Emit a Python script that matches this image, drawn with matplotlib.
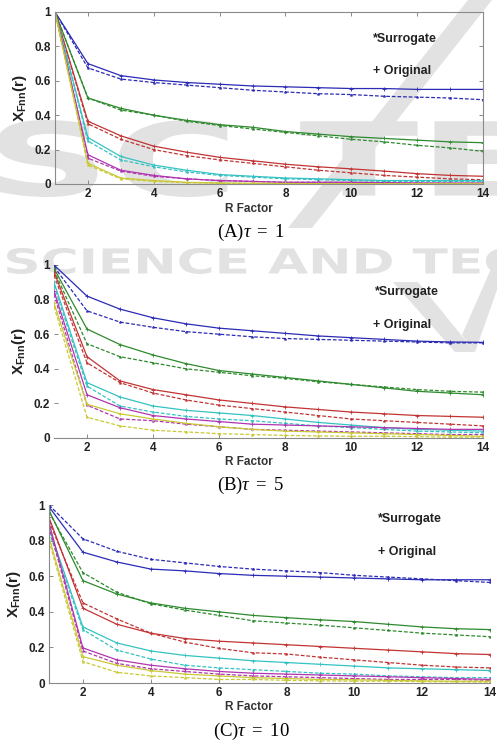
import numpy as np
import matplotlib
matplotlib.use("Agg")
import matplotlib.pyplot as plt
from matplotlib.textpath import TextPath
from matplotlib.font_manager import FontProperties
from matplotlib.patches import PathPatch, Polygon
from matplotlib.transforms import Affine2D

plt.rcParams.update({
    'mathtext.fontset': 'custom',
    'mathtext.sf': 'Liberation Sans:bold',
    'mathtext.rm': 'Liberation Serif',
    'mathtext.it': 'Liberation Serif:italic',
})

# ---------------- data ----------------
r_factor = list(range(1, 15))
series_colors = ['#2b2bb5', '#2e8a2e', '#c23434', '#35c2c2', '#b035b0', '#c9c935']

# Panel A, tau = 1  (orig = solid, surr = dashed)
a_orig = [
    [1, 0.70, 0.63, 0.605, 0.59, 0.58, 0.57, 0.565, 0.56, 0.555, 0.555, 0.55, 0.55, 0.55],
    [1, 0.50, 0.44, 0.40, 0.37, 0.345, 0.33, 0.305, 0.29, 0.275, 0.265, 0.255, 0.245, 0.24],
    [1, 0.365, 0.28, 0.22, 0.185, 0.155, 0.135, 0.115, 0.10, 0.088, 0.075, 0.06, 0.05, 0.045],
    [1, 0.27, 0.16, 0.11, 0.08, 0.055, 0.045, 0.035, 0.03, 0.025, 0.02, 0.02, 0.02, 0.02],
    [1, 0.17, 0.08, 0.05, 0.03, 0.02, 0.015, 0.01, 0.01, 0.01, 0.008, 0.006, 0.005, 0.005],
    [1, 0.12, 0.035, 0.02, 0.01, 0.006, 0.004, 0.003, 0.002, 0.002, 0.001, 0.001, 0.001, 0.001],
]
a_surr = [
    [1, 0.675, 0.61, 0.59, 0.575, 0.56, 0.545, 0.535, 0.525, 0.52, 0.51, 0.505, 0.50, 0.49],
    [1, 0.50, 0.43, 0.40, 0.365, 0.34, 0.32, 0.30, 0.28, 0.26, 0.245, 0.225, 0.21, 0.19],
    [1, 0.35, 0.26, 0.20, 0.165, 0.14, 0.12, 0.10, 0.08, 0.065, 0.05, 0.04, 0.03, 0.025],
    [1, 0.25, 0.14, 0.10, 0.07, 0.05, 0.04, 0.03, 0.025, 0.02, 0.015, 0.015, 0.015, 0.015],
    [1, 0.15, 0.075, 0.045, 0.03, 0.02, 0.015, 0.01, 0.01, 0.008, 0.006, 0.005, 0.004, 0.004],
    [1, 0.11, 0.03, 0.015, 0.008, 0.004, 0.003, 0.002, 0.002, 0.001, 0.001, 0.001, 0.001, 0.001],
]

# Panel B, tau = 5
b_orig = [
    [1.0, 0.82, 0.745, 0.695, 0.66, 0.635, 0.62, 0.605, 0.59, 0.58, 0.57, 0.56, 0.555, 0.553],
    [0.98, 0.63, 0.54, 0.48, 0.43, 0.39, 0.37, 0.35, 0.33, 0.31, 0.29, 0.27, 0.26, 0.25],
    [0.96, 0.47, 0.33, 0.28, 0.25, 0.22, 0.20, 0.18, 0.165, 0.15, 0.14, 0.13, 0.125, 0.12],
    [0.90, 0.32, 0.237, 0.185, 0.16, 0.145, 0.13, 0.11, 0.09, 0.075, 0.06, 0.05, 0.045, 0.04],
    [0.85, 0.25, 0.175, 0.13, 0.11, 0.095, 0.08, 0.075, 0.07, 0.065, 0.06, 0.055, 0.05, 0.05],
    [0.78, 0.195, 0.14, 0.11, 0.085, 0.065, 0.05, 0.04, 0.035, 0.03, 0.025, 0.02, 0.015, 0.01],
]
b_surr = [
    [0.99, 0.735, 0.67, 0.64, 0.615, 0.60, 0.585, 0.575, 0.57, 0.565, 0.56, 0.555, 0.55, 0.55],
    [0.97, 0.545, 0.47, 0.435, 0.40, 0.38, 0.36, 0.345, 0.325, 0.31, 0.295, 0.28, 0.27, 0.265],
    [0.94, 0.435, 0.32, 0.26, 0.22, 0.19, 0.17, 0.15, 0.13, 0.11, 0.10, 0.09, 0.08, 0.07],
    [0.88, 0.30, 0.185, 0.15, 0.125, 0.11, 0.10, 0.085, 0.07, 0.06, 0.05, 0.04, 0.035, 0.03],
    [0.83, 0.19, 0.11, 0.10, 0.08, 0.065, 0.05, 0.045, 0.04, 0.035, 0.03, 0.025, 0.02, 0.02],
    [0.76, 0.12, 0.07, 0.045, 0.035, 0.025, 0.02, 0.015, 0.012, 0.01, 0.01, 0.008, 0.005, 0.005],
]

# Panel C, tau = 10
c_orig = [
    [0.99, 0.735, 0.68, 0.64, 0.63, 0.615, 0.605, 0.60, 0.595, 0.59, 0.585, 0.58, 0.58, 0.58],
    [0.97, 0.575, 0.50, 0.45, 0.42, 0.40, 0.38, 0.367, 0.355, 0.345, 0.33, 0.315, 0.305, 0.30],
    [0.93, 0.42, 0.33, 0.28, 0.25, 0.235, 0.225, 0.215, 0.205, 0.195, 0.185, 0.175, 0.165, 0.16],
    [0.87, 0.315, 0.225, 0.18, 0.155, 0.14, 0.125, 0.115, 0.105, 0.095, 0.085, 0.08, 0.075, 0.07],
    [0.90, 0.197, 0.13, 0.10, 0.08, 0.065, 0.055, 0.05, 0.045, 0.04, 0.035, 0.03, 0.025, 0.02],
    [0.82, 0.148, 0.10, 0.07, 0.05, 0.04, 0.03, 0.025, 0.02, 0.018, 0.015, 0.012, 0.01, 0.01],
]
c_surr = [
    [1.0, 0.81, 0.74, 0.695, 0.675, 0.655, 0.64, 0.63, 0.62, 0.605, 0.595, 0.585, 0.575, 0.565],
    [0.96, 0.62, 0.51, 0.445, 0.41, 0.38, 0.35, 0.337, 0.325, 0.31, 0.295, 0.28, 0.27, 0.26],
    [0.91, 0.45, 0.36, 0.28, 0.23, 0.195, 0.17, 0.163, 0.145, 0.13, 0.115, 0.10, 0.09, 0.085],
    [0.85, 0.30, 0.185, 0.135, 0.10, 0.085, 0.075, 0.065, 0.055, 0.05, 0.04, 0.035, 0.03, 0.03],
    [0.88, 0.18, 0.11, 0.08, 0.065, 0.05, 0.04, 0.035, 0.03, 0.025, 0.02, 0.02, 0.02, 0.015],
    [0.80, 0.12, 0.06, 0.04, 0.03, 0.02, 0.02, 0.015, 0.012, 0.01, 0.01, 0.008, 0.006, 0.005],
]

x_ticks = [2, 4, 6, 8, 10, 12, 14]
y_ticks = [0, 0.2, 0.4, 0.6, 0.8, 1]
y_tick_labels = ['0', '0.2', '0.4', '0.6', '0.8', '1']
captions = [r'(A)$\tau\ =\ 1$', r'(B)$\tau\ =\ 5$', r'(C)$\tau\ =\ 10$']
legend_texts = ['*Surrogate', '+ Original']

# ---------------- figure ----------------
W, H = 497, 742
fig = plt.figure(figsize=(W / 100, H / 100), dpi=100)
fig.patch.set_facecolor('white')

WM = '#e2e2e2'


def px_rect(l, r, t, b):
    return [l / W, 1 - b / H, (r - l) / W, (b - t) / H]


def wm_text(s, x0, x1, ytop, ybot):
    tp = TextPath((0, 0), s, size=100, prop=FontProperties(family='DejaVu Sans', weight='bold'))
    ext = tp.get_extents()
    sx = (x1 - x0) / ext.width
    sy = (ybot - ytop) / ext.height
    tr = (Affine2D().translate(-ext.x0, -ext.y0).scale(sx / W, sy / H)
          .translate(x0 / W, 1 - ybot / H))
    path = tr.transform_path(tp)
    fig.add_artist(PathPatch(path, transform=fig.transFigure, fc=WM, ec='none', zorder=-5))


def wm_poly(pts):
    fpts = [(x / W, 1 - y / H) for x, y in pts]
    fig.add_artist(Polygon(fpts, closed=True, transform=fig.transFigure, fc=WM, ec='none', zorder=-5))


wm_text('SC TE', -3, 525, 120, 197)
wm_poly([(468, 0), (492, 0), (312, 228), (288, 228)])
wm_text('SCIENCE AND TEC', 7, 518, 248, 274)
wm_poly([(393, 282), (418, 282), (475, 352), (455, 352)])
wm_poly([(497, 255), (497, 290), (475, 352), (462, 335)])

panels = [
    dict(rect=px_rect(55, 483, 12, 184), orig=a_orig, surr=a_surr, spines='box',
         cap_y=232, rf_y=209, leg=[(373, 39), (373, 71)]),
    dict(rect=px_rect(54, 483, 265, 438), orig=b_orig, surr=b_surr, spines='bottom',
         cap_y=485, rf_y=462, leg=[(375, 292), (373, 325)]),
    dict(rect=px_rect(49, 490, 505, 683), orig=c_orig, surr=c_surr, spines='lb',
         cap_y=731, rf_y=707, leg=[(378, 519), (378, 552)]),
]

tick_font = FontProperties(family='Liberation Sans', weight='bold', size=8.5)

for i, p in enumerate(panels):
    ax = fig.add_axes(p['rect'])
    ax.set_facecolor('none')
    for col, yo, ys in zip(series_colors, p['orig'], p['surr']):
        ax.plot(r_factor, yo, color=col, lw=0.9, ls='-', marker='+', ms=2.5, mew=0.6)
        ax.plot(r_factor, ys, color=col, lw=0.9, ls=(0, (3, 1.5)), marker='*', ms=2.0, mew=0.4)
    ax.set_xlim(1, 14)
    ax.set_ylim(0, 1)
    ax.set_xticks(x_ticks)
    ax.set_yticks(y_ticks)
    ax.set_yticklabels(y_tick_labels)
    for lab in ax.get_xticklabels() + ax.get_yticklabels():
        lab.set_fontproperties(tick_font)
        lab.set_color('#222222')
    ax.tick_params(direction='in', length=3, width=0.6, color='#777777', pad=3)
    for s in ax.spines.values():
        s.set_color('#8a8a8a')
        s.set_linewidth(0.8)
    if p['spines'] == 'box':
        ax.tick_params(top=True, right=True)
    elif p['spines'] == 'bottom':
        ax.spines['top'].set_visible(False)
        ax.spines['right'].set_visible(False)
        ax.spines['left'].set_visible(False)
    else:
        ax.spines['top'].set_visible(False)
        ax.spines['right'].set_visible(False)
    ax.set_ylabel(r'$\mathsf{X_{Fnn}(r)}$', fontsize=11, color='#222222', labelpad=4)
    fig.text(0.5, 1 - p['rf_y'] / H, 'R Factor', ha='center', va='center',
             family='Liberation Sans', weight='bold', size=8.5, color='#333333')
    fig.text(251 / W, 1 - p['cap_y'] / H, captions[i], ha='center', va='center',
             family='Liberation Serif', size=13.5, color='black')
    for (lx, ly), t in zip(p['leg'], legend_texts):
        fig.text(lx / W, 1 - ly / H, t, ha='left', va='center',
                 family='Liberation Sans', weight='bold', size=9, color='#222222')

fig.savefig('out.png', dpi=100, facecolor='white')
